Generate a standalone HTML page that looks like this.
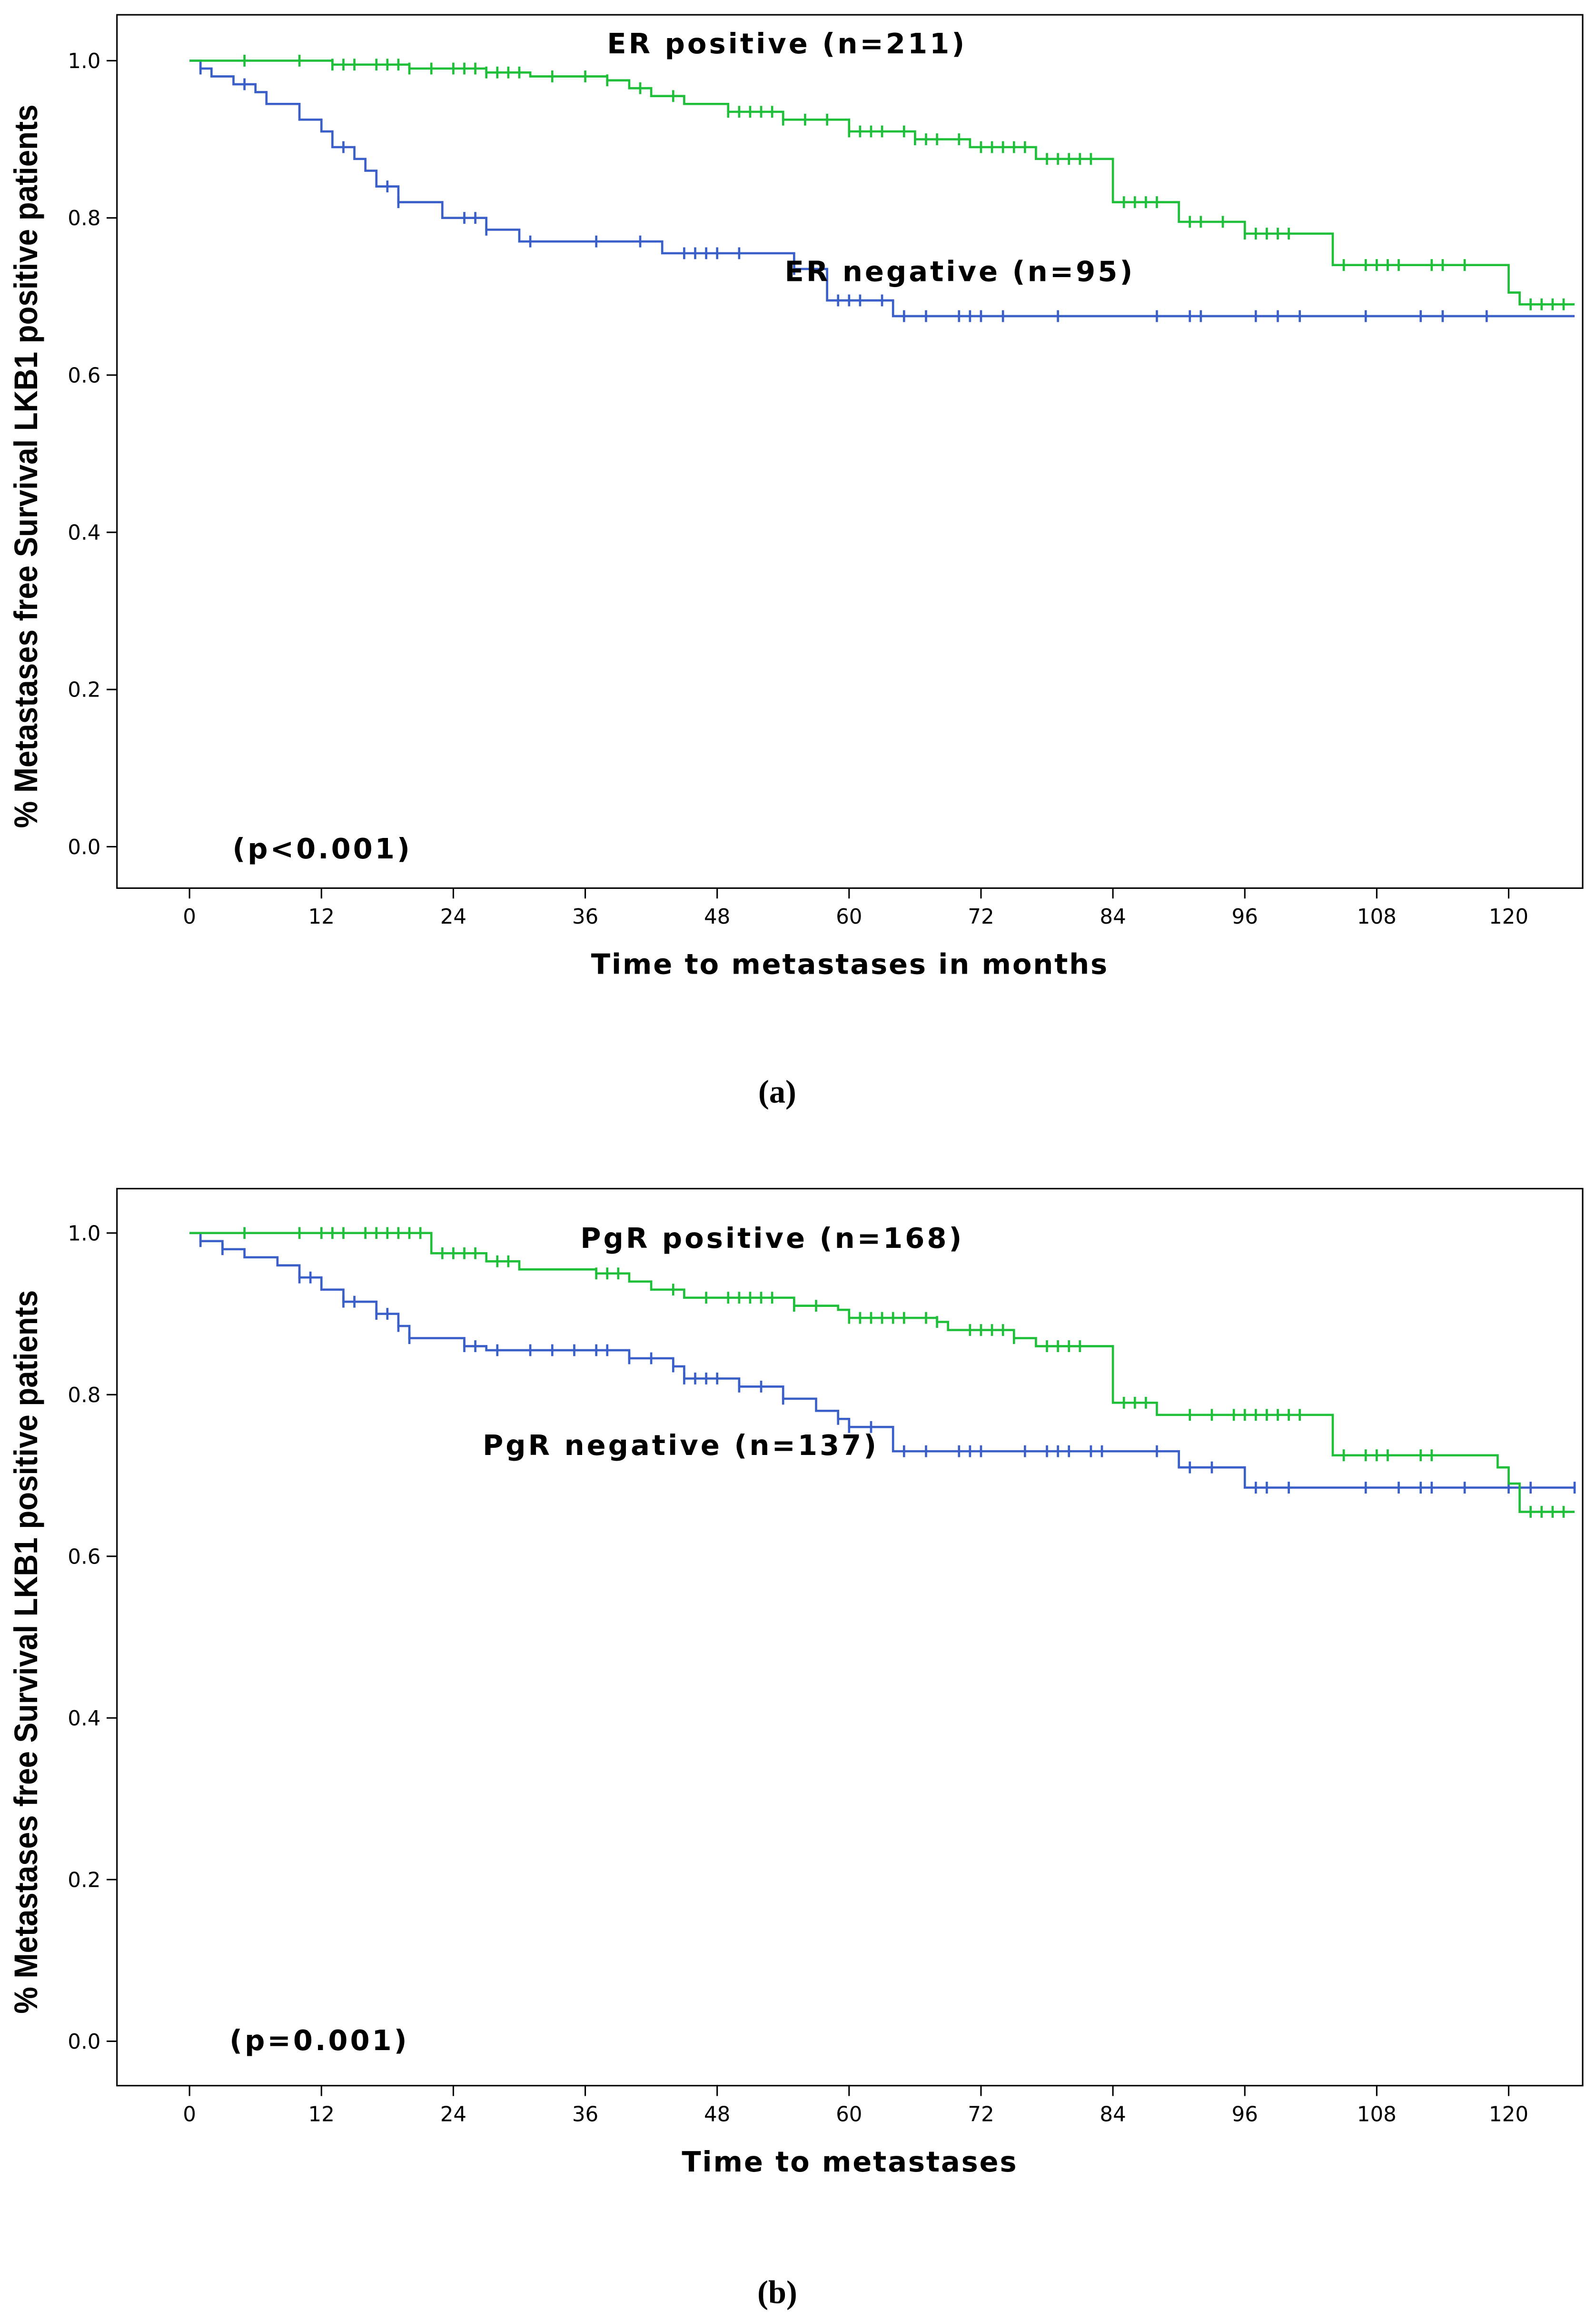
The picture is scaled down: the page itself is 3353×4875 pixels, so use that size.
<!DOCTYPE html>
<html><head><meta charset="utf-8"><style>
html,body{margin:0;padding:0;background:#fff}
svg{display:block}
text{font-family:"Liberation Sans",sans-serif}
.wide{font-family:"DejaVu Sans","Liberation Sans",sans-serif}
</style></head><body>
<svg id="chart" width="3353" height="4875" viewBox="0 0 1078 1568" preserveAspectRatio="none" xmlns="http://www.w3.org/2000/svg"></svg>
<script>
// ---- Panel (a) data ----
const aGreenT=[0,13,20,27,31,38,40,42,45,49,54,60,66,71,77,84,90,96,104,120,121];
const aGreenS=[1,0.995,0.99,0.985,0.98,0.975,0.965,0.955,0.945,0.935,0.925,0.91,0.90,0.89,0.875,0.82,0.795,0.78,0.74,0.705,0.69];
const aGreenC=[5,10,13,14,15,17,18,19,20,22,24,25,26,27,28,29,30,33,36,38,41,44,49,50,51,52,53,54,56,58,60,61,62,63,65,66,67,68,70,72,73,74,75,76,78,79,80,81,82,85,86,87,88,91,92,94,96,97,98,99,100,105,107,108,109,110,113,114,116,122,123,124,125];
const aBlueT=[0,1,2,4,6,7,10,12,13,15,16,17,19,23,27,30,43,55,58,64];
const aBlueS=[1,0.99,0.98,0.97,0.96,0.945,0.925,0.91,0.89,0.875,0.86,0.84,0.82,0.80,0.785,0.77,0.755,0.735,0.695,0.675];
const aBlueC=[1,5,14,18,19,25,26,27,31,37,41,45,46,47,48,50,55,59,60,61,63,65,67,70,71,72,74,79,88,91,92,97,99,101,107,112,114,118];
// ---- Panel (b) data ----
const bGreenT=[0,22,27,30,37,40,42,45,55,59,60,68,69,75,77,84,88,104,119,120,121];
const bGreenS=[1,0.975,0.965,0.955,0.95,0.94,0.93,0.92,0.91,0.905,0.895,0.89,0.88,0.87,0.86,0.79,0.775,0.725,0.71,0.69,0.655];
const bGreenC=[5,10,12,13,14,16,17,18,19,20,21,23,24,25,26,28,29,37,38,39,44,47,49,50,51,52,53,55,57,60,61,62,63,64,65,67,68,71,72,73,74,75,78,79,80,81,85,86,87,91,93,95,96,97,98,99,100,101,105,107,108,109,112,113,122,123,124,125];
const bBlueT=[0,1,3,5,8,10,12,14,17,19,20,25,27,40,44,45,50,54,57,59,60,64,90,96];
const bBlueS=[1,0.99,0.98,0.97,0.96,0.945,0.93,0.915,0.9,0.885,0.87,0.86,0.855,0.845,0.835,0.82,0.81,0.795,0.78,0.77,0.76,0.73,0.71,0.685];
const bBlueC=[1,3,10,11,14,15,17,18,19,20,25,26,28,31,33,35,37,38,40,42,44,45,46,47,48,50,52,54,59,60,62,65,67,70,71,72,76,78,79,80,82,83,88,91,93,97,98,100,107,110,112,113,116,120,122,126];
const xTicks=[0,12,24,36,48,60,72,84,96,108,120];
const yTicks=[0,0.2,0.4,0.6,0.8,1.0];

const NS="http://www.w3.org/2000/svg";
const svg=document.getElementById('chart');
function el(tag,attrs,parent){const e=document.createElementNS(NS,tag);for(const k in attrs)e.setAttribute(k,attrs[k]);(parent||svg).appendChild(e);return e;}
const GREEN="#1fbf3a", BLUE="#3a5fc8";

function panel(p){
  const g=el('g',{});
  
  
  const X=t=>128+(t/120)*(1019-128);
  const Ys=s=>p.yZero-(p.yZero-p.yOne)*s;
  const box=el('rect',{x:79,y:p.top,width:990,height:p.bot-p.top,fill:'none',stroke:'#000','stroke-width':1},g);
  
  
  yTicks.forEach(v=>{
    el('line',{x1:72,x2:79,y1:Ys(v),y2:Ys(v),stroke:'#000'},g);
    const t=el('text',{x:68,y:Ys(v)+5,'text-anchor':'end','font-size':14,'class':'wide'},g);
    t.textContent=v.toFixed(1);
    
    
  });
  xTicks.forEach(v=>{
    el('line',{x1:X(v),x2:X(v),y1:p.bot,y2:p.bot+7,stroke:'#000'},g);
    const t=el('text',{x:X(v),y:p.bot+24,'text-anchor':'middle','font-size':14,'class':'wide'},g);
    t.textContent=v;
    
    
  });
  const yt=el('text',{transform:`translate(25,${(p.top+p.bot)/2+10}) rotate(-90) scale(0.93,1)`,'text-anchor':'middle','font-size':22,'font-weight':'bold'},g);
  yt.textContent='% Metastases free Survival LKB1 positive patients';
  
  
  const xt=el('text',{x:p.xtX,y:p.bot+58,'text-anchor':'middle','font-size':19,'font-weight':'bold','class':'wide','letter-spacing':0.9},g);
  xt.textContent=p.xtitle;
  
  
  function series(T,S,C,color,nm){
    let d=`M${X(T[0])},${Ys(S[0])}`;
    for(let i=1;i<T.length;i++){d+=`H${X(T[i])}V${Ys(S[i])}`;}
    d+=`H${X(126)}`;
    const path=el('path',{d:d,fill:'none',stroke:color,'stroke-width':1.5},g);
    
    
    C.forEach(c=>{
      let s=S[0];for(let i=0;i<T.length;i++){if(T[i]<=c)s=S[i];}
      const m=el('line',{x1:X(c),x2:X(c),y1:Ys(s)-4,y2:Ys(s)+4,stroke:color,'stroke-width':1.5},g);
      
      
    });
  }
  series(p.bT,p.bS,p.bC,BLUE,'negative');
  series(p.gT,p.gS,p.gC,GREEN,'positive');
  p.labels.forEach(l=>{
    const t=el('text',{x:l.x,y:l.y,'font-size':19,'font-weight':'bold','class':'wide','letter-spacing':1.6},g);
    t.textContent=l.t;
    
    
  });
  const c=el('text',{x:525,y:p.capY,'text-anchor':'middle','font-size':22,'font-weight':'bold'},g);
  c.setAttribute('style','font-family:"Liberation Serif",serif');
  c.textContent=p.cap;
  
  
}
panel({name:'panel-a',top:10,bot:600,yOne:41,yZero:572,xtitle:'Time to metastases in months',xtX:574,
  gT:aGreenT,gS:aGreenS,gC:aGreenC,bT:aBlueT,bS:aBlueS,bC:aBlueC,cap:'(a)',capY:745,
  labels:[{x:410,y:36,t:'ER positive (n=211)',n:'er-positive-label'},{x:530,y:190,t:'ER negative (n=95)',n:'er-negative-label'},{x:157,y:580,t:'(p<0.001)',n:'p-value'}]});
panel({name:'panel-b',top:803,bot:1409,yOne:833,yZero:1379,xtitle:'Time to metastases',xtX:574,
  gT:bGreenT,gS:bGreenS,gC:bGreenC,bT:bBlueT,bS:bBlueS,bC:bBlueC,cap:'(b)',capY:1556,
  labels:[{x:392,y:843,t:'PgR positive (n=168)',n:'pgr-positive-label'},{x:326,y:983,t:'PgR negative (n=137)',n:'pgr-negative-label'},{x:155,y:1385,t:'(p=0.001)',n:'p-value'}]});
</script>
</body></html>
